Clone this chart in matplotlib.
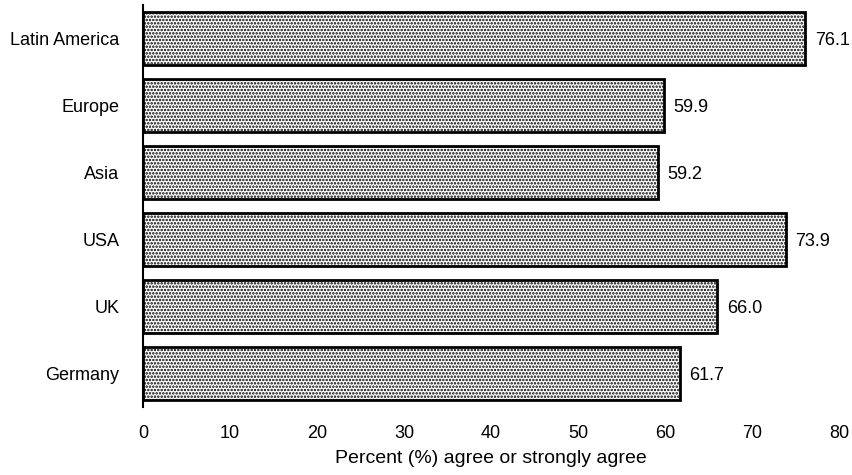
import matplotlib.pyplot as plt

plt.rcParams['font.family'] = ['Liberation Sans', 'DejaVu Sans']
plt.rcParams['hatch.linewidth'] = 1.2

regions = ["Latin America", "Europe", "Asia", "USA", "UK", "Germany"]
percent = [76.1, 59.9, 59.2, 73.9, 66.0, 61.7]

fig = plt.figure(figsize=(8.53, 4.75), dpi=100)
ax = fig.add_axes([143 / 853, 1 - 407 / 475, (839 - 143) / 853, 402 / 475])

ypos = list(range(len(regions)))
bars = ax.barh(ypos, percent, height=0.8, color='white', edgecolor='black',
               linewidth=2, hatch='.....')

for y, v in zip(ypos, percent):
    ax.text(v + 1.1, y + 0.03, f"{v:.1f}", va='center', ha='left', fontsize=13)

ax.set_xlim(0, 80)
ax.set_ylim(5.5, -0.5)
ax.set_yticks(ypos)
ax.set_yticklabels(regions, fontsize=13)
ax.set_xticks(range(0, 81, 10))
ax.tick_params(axis='x', labelsize=13, length=0, pad=13)
ax.tick_params(axis='y', length=0, pad=17)
ax.set_xlabel("Percent (%) agree or strongly agree", fontsize=14, labelpad=6)

for s in ['top', 'right', 'bottom']:
    ax.spines[s].set_visible(False)
ax.spines['left'].set_linewidth(1.5)

fig.savefig("out.png", dpi=100)
